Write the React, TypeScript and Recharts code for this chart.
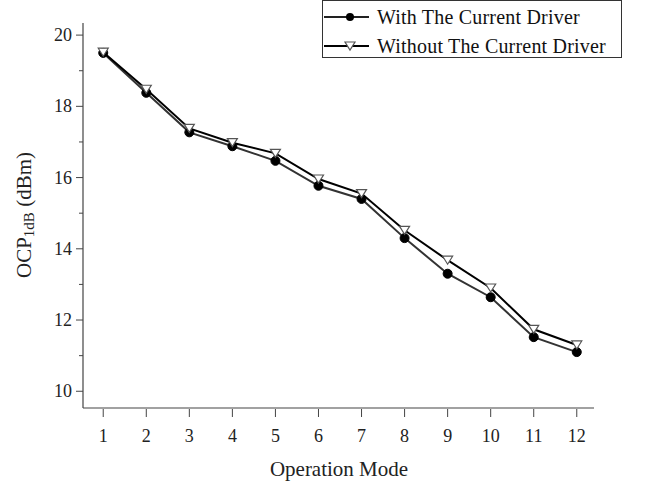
import { LineChart, Line, XAxis, YAxis } from "recharts";

const modes = [1, 2, 3, 4, 5, 6, 7, 8, 9, 10, 11, 12];
const withDriver = [19.5, 18.38, 17.27, 16.88, 16.47, 15.77, 15.4, 14.3, 13.3, 12.64, 11.52, 11.1];
const withoutDriver = [19.52, 18.48, 17.38, 16.98, 16.68, 15.96, 15.55, 14.52, 13.68, 12.9, 11.74, 11.3];
const yTicks = [10, 11, 12, 13, 14, 15, 16, 17, 18, 19, 20];
const yLabels = [10, 12, 14, 16, 18, 20];

const data = modes.map((m, i) => ({ mode: m, withD: withDriver[i], withoutD: withoutDriver[i] }));

const FONT = '"Liberation Serif", "Times New Roman", serif';
const AXIS = "#444";

const CircleDot = (props: any) => {
  const { cx, cy } = props;
  if (cx == null || cy == null) return null;
  return <circle cx={cx} cy={cy} r={4.5} fill="#000" stroke="#000" />;
};

const TriDot = (props: any) => {
  const { cx, cy } = props;
  if (cx == null || cy == null) return null;
  const w = 5, h = 8;
  return (
    <path
      d={`M${cx - w},${cy - h / 2} L${cx + w},${cy - h / 2} L${cx},${cy + h / 2} Z`}
      fill="#fff"
      stroke="#555"
      strokeWidth={1.2}
    />
  );
};

const YTick = (props: any) => {
  const { x, y, payload } = props;
  const major = yLabels.includes(payload.value);
  return (
    <g>
      <line x1={x - (major ? 7 : 4)} x2={x} y1={y} y2={y} stroke={AXIS} strokeWidth={1} />
      {major && (
        <text x={x - 11} y={y + 6} textAnchor="end" fontFamily={FONT} fontSize={18} fill="#222">
          {payload.value}
        </text>
      )}
    </g>
  );
};

const XTick = (props: any) => {
  const { x, y, payload } = props;
  return (
    <g>
      <line x1={x} x2={x} y1={y + 1} y2={y + 9} stroke={AXIS} strokeWidth={1} />
      <text x={x} y={y + 34} textAnchor="middle" fontFamily={FONT} fontSize={18} fill="#222">
        {payload.value}
      </text>
    </g>
  );
};

const legendItems = [
  { name: "With The Current Driver", dot: "c", color: "#222" },
  { name: "Without The Current Driver", dot: "t", color: "#000" },
];

const LegendBox = () => (
  <div
    style={{
      position: "absolute",
      left: 322,
      top: 0,
      border: "1px solid #333",
      width: 300,
      height: 58,
      fontFamily: FONT,
      fontSize: 20,
      color: "#111",
      background: "#fff",
      boxSizing: "border-box",
    }}
  >
    {legendItems.map((it, i) => (
      <div key={it.name} style={{ position: "absolute", left: 1, top: i === 0 ? 4 : 33, height: 24, display: "flex", alignItems: "center" }}>
        <svg width={46} height={20}>
          <line x1={0} x2={45} y1={10} y2={10} stroke={it.color} strokeWidth={2} />
          {it.dot === "c" ? (
            <circle cx={26} cy={10} r={4} fill="#000" />
          ) : (
            <path d="M21,6 L31,6 L26,14 Z" fill="#fff" stroke="#555" strokeWidth={1.2} />
          )}
        </svg>
        <span style={{ marginLeft: 7, whiteSpace: "nowrap", letterSpacing: 0.2 }}>{it.name}</span>
      </div>
    ))}
  </div>
);

const YLabel = () => (
  <text
    x={24}
    y={215}
    transform="rotate(-90, 24, 215)"
    textAnchor="middle"
    dominantBaseline="central"
    fontFamily={FONT}
    fontSize={21}
    fill="#222"
  >
    OCP
    <tspan fontSize={15} dy={5}>1dB</tspan>
    <tspan dy={-5}> (dBm)</tspan>
  </text>
);

const XLabel = () => (
  <text x={339} y={476} textAnchor="middle" fontFamily={FONT} fontSize={21} fill="#222">
    Operation Mode
  </text>
);

export default function App() {
  return (
    <div style={{ position: "absolute", left: 0, top: 0, width: 657, height: 484, background: "#fff" }}>
      <LineChart width={657} height={484} data={data} margin={{ top: 23, right: 63, bottom: 0, left: 0 }}>
        <XAxis
          dataKey="mode"
          type="number"
          domain={[0.53, 12.4]}
          ticks={modes}
          allowDataOverflow
          height={76}
          tickSize={0}
          tickMargin={0}
          tickLine={false}
          axisLine={{ stroke: AXIS, strokeWidth: 1.2 }}
          tick={<XTick />}
          interval={0}
          label={<XLabel />}
        />
        <YAxis
          type="number"
          domain={[9.53, 20.34]}
          ticks={yTicks}
          allowDataOverflow
          width={83}
          tickSize={0}
          tickMargin={0}
          tickLine={false}
          axisLine={{ stroke: AXIS, strokeWidth: 1.2 }}
          tick={<YTick />}
          interval={0}
          label={<YLabel />}
        />
        <Line
          dataKey="withD"
          stroke="#333"
          strokeWidth={2}
          dot={<CircleDot />}
          activeDot={false}
          isAnimationActive={false}
        />
        <Line
          dataKey="withoutD"
          stroke="#000"
          strokeWidth={2}
          dot={<TriDot />}
          activeDot={false}
          isAnimationActive={false}
        />
      </LineChart>
      <LegendBox />
    </div>
  );
}
